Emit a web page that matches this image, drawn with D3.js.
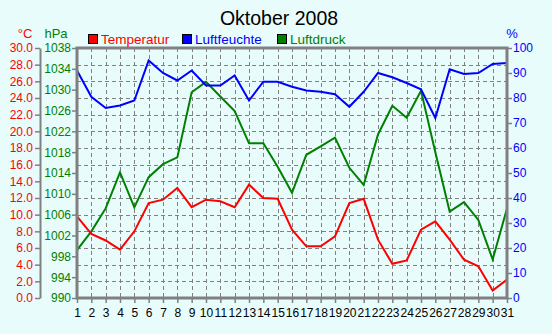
<!DOCTYPE html>
<html>
<head>
<meta charset="utf-8">
<script src="https://cdn.jsdelivr.net/npm/d3@7"></script>
<style>
  html, body { margin: 0; padding: 0; background: #e8fcfc; }
  svg { display: block; font-family: "Liberation Sans", Arial, sans-serif; }
</style>
</head>
<body>
<svg id="chart" width="552" height="334"></svg>
<script>
// Daily weather readings, October 2008
const days = d3.range(1, 32);
const temperature = [9.8, 7.7, 6.9, 5.8, 8.0, 11.4, 11.8, 13.2, 10.9, 11.8, 11.6, 10.9, 13.6, 12.0, 11.9, 8.2,
  6.2, 6.2, 7.4, 11.4, 11.9, 7.0, 4.1, 4.5, 8.2, 9.2, 7.0, 4.6, 3.8, 0.9, 2.2];
const humidity = [91, 80.5, 76, 77, 79, 95, 90, 87, 91, 85, 85, 89, 79, 86.5, 86.5, 84.5,
  83, 82.5, 81.5, 76.5, 82.5, 90, 88.3, 86, 83.5, 72, 91.5, 89.6, 90, 93.6, 94];
const pressure = [999.2, 1002.8, 1007.2, 1014.1, 1007.4, 1013.2, 1015.7, 1017.0, 1029.5, 1031.5, 1028.7, 1025.9,
  1019.7, 1019.7, 1015.2, 1010.2, 1017.5, 1019.1, 1020.8, 1015.0, 1011.7, 1021.4, 1026.9, 1024.6, 1029.8,
  1018.0, 1006.6, 1008.4, 1005.0, 997.4, 1007.2];
const tempTicks = d3.range(0, 30.1, 2);
const pressTicks = d3.range(990, 1038.1, 4);
const humTicks = d3.range(0, 100.1, 10);
const legendItems = [
  { label: "Temperatur", color: "#ff0000" },
  { label: "Luftfeuchte", color: "#0000ff" },
  { label: "Luftdruck", color: "#008000" }
];

const svg = d3.select("#chart");
const plotL = 77, plotR = 507, plotT = 48, plotB = 298;
const grey = "#808080";

const x = d3.scaleLinear().domain([1, 31]).range([plotL, plotR]);
const yT = d3.scaleLinear().domain([0, 30]).range([plotB, plotT]);
const yP = d3.scaleLinear().domain([990, 1038]).range([plotB, plotT]);
const yH = d3.scaleLinear().domain([0, 100]).range([plotB, plotT]);

// dashed grid
const grid = svg.append("g").attr("stroke", grey).attr("stroke-width", 1).attr("stroke-dasharray", "4,3");
grid.selectAll("line.h").data(tempTicks.slice(1, -1)).join("line").attr("class", "h")
  .attr("x1", plotL).attr("x2", plotR)
  .attr("y1", d => Math.round(yT(d)) + 0.5).attr("y2", d => Math.round(yT(d)) + 0.5);
grid.selectAll("line.v").data(days.slice(1, -1)).join("line").attr("class", "v")
  .attr("y1", plotT).attr("y2", plotB)
  .attr("x1", d => Math.round(x(d)) + 0.5).attr("x2", d => Math.round(x(d)) + 0.5);

// data lines
const series = [
  { values: temperature, y: yT, color: "#ff0000" },
  { values: humidity, y: yH, color: "#0000ff" },
  { values: pressure, y: yP, color: "#008000" }
];
series.slice().reverse().forEach(s => {
  const line = d3.line().x((d, i) => x(days[i])).y(d => s.y(d));
  svg.append("path").datum(s.values).attr("d", line)
    .attr("fill", "none").attr("stroke", s.color).attr("stroke-width", 2)
    .attr("stroke-linejoin", "miter");
});

// frame
svg.append("rect").attr("x", plotL).attr("y", plotT).attr("width", plotR - plotL).attr("height", plotB - plotT)
  .attr("fill", "none").attr("stroke", grey).attr("stroke-width", 3);

function styleAxis(g, color) {
  g.attr("font-size", 12).attr("font-family", "Liberation Sans, Arial, sans-serif");
  g.select(".domain").attr("stroke", grey).attr("stroke-width", 2);
  g.selectAll(".tick line").attr("stroke", grey).attr("stroke-width", 1.5);
  g.selectAll(".tick text").attr("fill", color);
}

// temperature axis
const gT = svg.append("g").attr("transform", "translate(40,0)")
  .call(d3.axisLeft(yT).tickValues(tempTicks).tickFormat(d3.format(".1f")).tickSize(5).tickSizeOuter(0).tickPadding(2));
styleAxis(gT, "#ff0000");

// pressure axis
const gP = svg.append("g").attr("transform", `translate(${plotL},0)`)
  .call(d3.axisLeft(yP).tickValues(pressTicks).tickFormat(d3.format("d")).tickSize(5).tickSizeOuter(0).tickPadding(1));
styleAxis(gP, "#008000");
gP.select(".domain").remove();

// humidity axis
const gH = svg.append("g").attr("transform", `translate(${plotR},0)`)
  .call(d3.axisRight(yH).tickValues(humTicks).tickFormat(d3.format("d")).tickSize(5).tickSizeOuter(0).tickPadding(1));
styleAxis(gH, "#0000ff");
gH.select(".domain").remove();

// day axis
const gX = svg.append("g").attr("transform", `translate(0,${plotB})`)
  .call(d3.axisBottom(x).tickValues(days).tickFormat(d3.format("d")).tickSize(5).tickSizeOuter(0).tickPadding(5));
styleAxis(gX, "#000000");
gX.select(".domain").remove();

// unit labels
svg.append("text").attr("x", 25).attr("y", 38).attr("text-anchor", "middle").attr("font-size", 13)
  .attr("fill", "#ff0000").text("°C");
svg.append("text").attr("x", 56).attr("y", 38).attr("text-anchor", "middle").attr("font-size", 13)
  .attr("fill", "#008000").text("hPa");
svg.append("text").attr("x", 512).attr("y", 38).attr("text-anchor", "middle").attr("font-size", 13)
  .attr("fill", "#0000ff").text("%");

// title
svg.append("text").attr("x", 279).attr("y", 25).attr("text-anchor", "middle").attr("font-size", 19.5)
  .attr("fill", "#000").text("Oktober 2008");

// legend
const legendX = [88, 182, 277];
const lg = svg.append("g").selectAll("g").data(legendItems).join("g")
  .attr("transform", (d, i) => `translate(${legendX[i]},34)`);
lg.append("rect").attr("x", 0.5).attr("y", 0.5).attr("width", 9).attr("height", 9)
  .attr("fill", d => d.color).attr("stroke", "#000").attr("stroke-width", 1);
lg.append("text").attr("x", 13).attr("y", 10).attr("font-size", 13.5)
  .attr("fill", d => d.color).text(d => d.label);
</script>
</body>
</html>
